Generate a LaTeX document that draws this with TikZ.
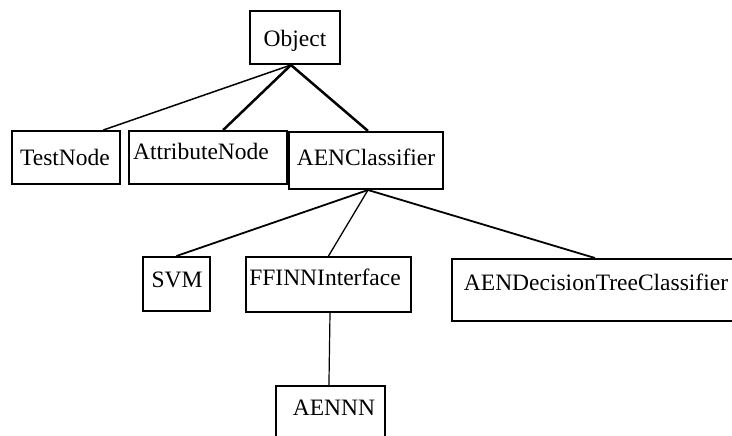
\documentclass[tikz,border=0pt]{standalone}
\usepackage{fontspec}
\setmainfont{Liberation Serif}
\usetikzlibrary{calc}

\tikzset{
  box/.style={draw=black, line width=2pt, rectangle, inner sep=0pt},
  lbl/.style={inner sep=0pt, anchor=base, font=\fontsize{23.5}{26}\selectfont},
  link/.style={draw=black, line width=#1},
  link/.default=1.5pt
}

\begin{document}
\begin{tikzpicture}[x=1pt, y=-1pt]
  \useasboundingbox (0,0) rectangle (732,436);
  \clip (0,0) rectangle (732,436);

  % class boxes
  \node[box, minimum width=90pt,  minimum height=53pt] (obj)   at (295,37.5)   {};
  \node[box, minimum width=108pt, minimum height=53pt] (test)  at (66,157.5)   {};
  \node[box, minimum width=158pt, minimum height=53pt] (attr)  at (208,157.5)  {};
  \node[box, minimum width=154pt, minimum height=57pt] (aen)   at (366,160.5)  {};
  \node[box, minimum width=67pt,  minimum height=54pt] (svm)   at (176.5,284)  {};
  \node[box, minimum width=165pt, minimum height=55pt] (ffinn) at (328.5,284.5) {};
  \node[box, minimum width=293pt, minimum height=62pt] (dec)   at (598.5,290)  {};
  \node[box, minimum width=109pt, minimum height=59pt] (aennn) at (330.5,415.5) {};

  % class names
  \node[lbl] (objT)   at (295,47)  {Object};
  \node[lbl] (testT)  at (65,165)  {TestNode};
  \node[lbl] (attrT)  at (201,160) {AttributeNode};
  \node[lbl] (aenT)   at (366,165) {AENClassifier};
  \node[lbl] (svmT)   at (177,287) {SVM};
  \node[lbl] (ffinnT) at (325,285) {FFINNInterface};
  \node[lbl] (decT)   at (596,290) {AENDecisionTreeClassifier};
  \node[lbl] (aennnT) at (334,415) {AENNN};

  % attachment points on the box edges
  \coordinate (objB)   at ($(obj.south west)!0.456!(obj.south east)$);
  \coordinate (testU)  at ($(test.north west)!0.84!(test.north east)$);
  \coordinate (attrU)  at ($(attr.north west)!0.595!(attr.north east)$);
  \coordinate (aenU)   at ($(aen.north west)!0.513!(aen.north east)$);
  \coordinate (aenB)   at ($(aen.south west)!0.513!(aen.south east)$);
  \coordinate (decU)   at ($(dec.north west)!0.488!(dec.north east)$);
  \coordinate (ffinnB) at ($(ffinn.south west)!0.509!(ffinn.south east)$);
  \coordinate (aennnU) at ($(aennn.north west)!0.486!(aennn.north east)$);

  % inheritance links
  \draw[link=1.5pt] (objB) -- (testU);
  \draw[link=2.5pt] (objB) -- (attrU);
  \draw[link=2.5pt] (objB) -- (aenU);
  \draw[link=1.8pt] (aenB) -- (svm.north);
  \draw[link=1.3pt] (aenB) -- (ffinn.north);
  \draw[link=1.8pt] (aenB) -- (decU);
  \draw[link=1.2pt] (ffinnB) -- (aennnU);
\end{tikzpicture}
\end{document}
